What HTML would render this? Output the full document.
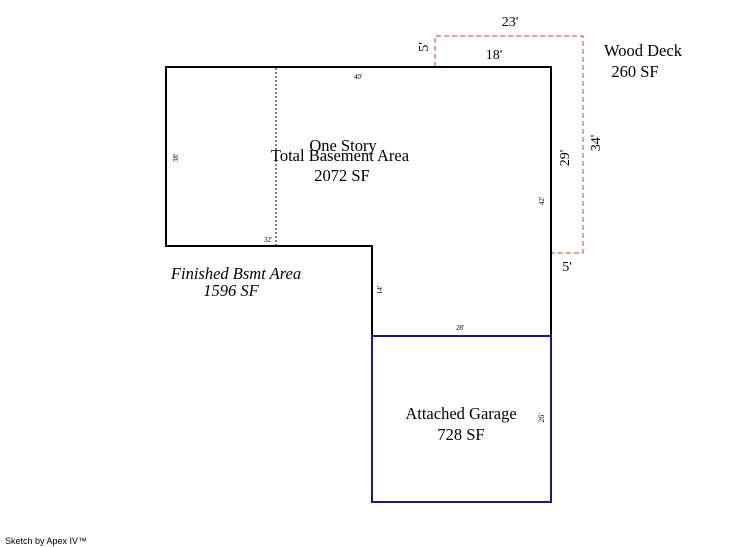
<!DOCTYPE html>
<html><head><meta charset="utf-8"><style>
html,body{margin:0;padding:0;background:#fff;}
svg{display:block;}
text{font-family:"Liberation Serif",serif;fill:#000;}
</style></head><body>
<svg width="746" height="547" viewBox="0 0 746 547" xmlns="http://www.w3.org/2000/svg">
<rect width="746" height="547" fill="#fff"/>
<polyline points="435,67 435,36 583,36 583,253 551,253" fill="none" stroke="#b84a40" stroke-width="1" stroke-dasharray="5,3"/>
<polygon points="166,67 551,67 551,502 372,502 372,246 166,246" fill="none" stroke="#000" stroke-width="2"/>
<line x1="276" y1="68" x2="276" y2="245" stroke="#000" stroke-width="1" stroke-dasharray="2,2"/>
<rect x="372" y="336" width="179" height="166" fill="none" stroke="#1a1a7a" stroke-width="2"/>
<text x="510" y="26" font-size="14" text-anchor="middle">23'</text>
<text x="494" y="59" font-size="14" text-anchor="middle">18'</text>
<text x="643" y="56" font-size="16.5" text-anchor="middle">Wood Deck</text>
<text x="635" y="77" font-size="16.5" text-anchor="middle">260 SF</text>
<text transform="translate(428,47) rotate(-90)" font-size="14" text-anchor="middle">5'</text>
<text transform="translate(569,158) rotate(-90)" font-size="14" text-anchor="middle">29'</text>
<text transform="translate(600,143) rotate(-90)" font-size="14" text-anchor="middle">34'</text>
<text transform="translate(544,201) rotate(-90)" font-size="7" text-anchor="middle">42'</text>
<text transform="translate(178,158) rotate(-90)" font-size="7" text-anchor="middle">38'</text>
<text transform="translate(382,290) rotate(-90)" font-size="7" text-anchor="middle">14'</text>
<text transform="translate(544,418) rotate(-90)" font-size="8" text-anchor="middle">26'</text>
<text x="358" y="79" font-size="7" text-anchor="middle">40'</text>
<text x="268" y="242" font-size="7" text-anchor="middle">32'</text>
<text x="460" y="330" font-size="7" text-anchor="middle">28'</text>
<text x="567" y="271" font-size="14" text-anchor="middle">5'</text>
<text x="343" y="151" font-size="16.5" text-anchor="middle">One Story</text>
<text x="340" y="161" font-size="16.5" text-anchor="middle">Total Basement Area</text>
<text x="342" y="181" font-size="16.5" text-anchor="middle">2072 SF</text>
<text x="236" y="279" font-size="16.5" text-anchor="middle" font-style="italic">Finished Bsmt Area</text>
<text x="231" y="296" font-size="16.5" text-anchor="middle" font-style="italic">1596 SF</text>
<text x="461" y="419" font-size="16.5" text-anchor="middle">Attached Garage</text>
<text x="461" y="440" font-size="16.5" text-anchor="middle">728 SF</text>
<text x="5" y="544" font-size="9" style="font-family:'Liberation Sans',sans-serif">Sketch by Apex IV™</text>
</svg>
</body></html>
